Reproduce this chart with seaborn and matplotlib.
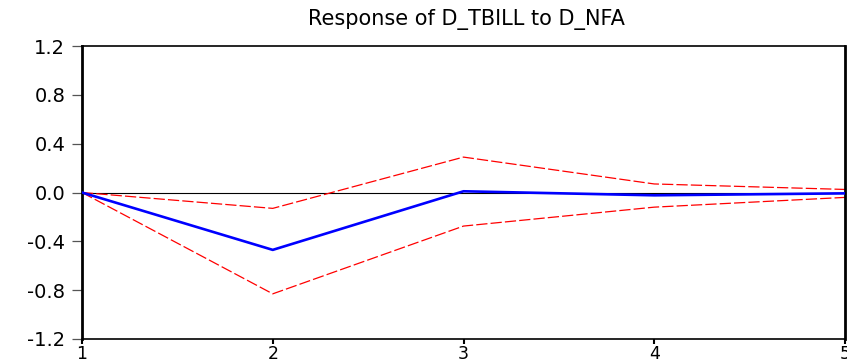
import matplotlib
matplotlib.use("Agg")
import matplotlib.pyplot as plt
import seaborn as sns
import pandas as pd

# Impulse response of D_TBILL to a D_NFA shock, with +/- 2 S.E. bands
periods = [1, 2, 3, 4, 5]
response = [0.0, -0.47, 0.01, -0.023, -0.007]
upper_band = [0.0, -0.13, 0.29, 0.07, 0.025]
lower_band = [0.0, -0.83, -0.275, -0.12, -0.04]

y_ticks = [-1.2, -0.8, -0.4, 0.0, 0.4, 0.8, 1.2]
x_ticks = [1, 2, 3, 4, 5]
title = "Response of D_TBILL to D_NFA"

sns.set_style("ticks")
plt.rcParams["font.family"] = ["DejaVu Sans"]
plt.rcParams["text.color"] = "black"
plt.rcParams["xtick.labelcolor"] = "black"
plt.rcParams["ytick.labelcolor"] = "black"

df = pd.DataFrame({
    "period": periods * 3,
    "value": response + upper_band + lower_band,
    "series": ["response"] * 5 + ["upper"] * 5 + ["lower"] * 5,
})

fig = plt.figure(figsize=(8.47, 3.64), dpi=100)
ax = fig.add_axes([82 / 847, 1 - 339 / 364, (845 - 82) / 847, (339 - 46) / 364])

ax.axhline(0, color="black", lw=0.8, zorder=1)

sns.lineplot(data=df[df.series == "upper"], x="period", y="value",
             color="#ff0000", lw=0.9, ax=ax, zorder=2)
sns.lineplot(data=df[df.series == "lower"], x="period", y="value",
             color="#ff0000", lw=0.9, ax=ax, zorder=2)
for ln in ax.lines[1:]:
    ln.set_dashes([9, 2.5])
sns.lineplot(data=df[df.series == "response"], x="period", y="value",
             color="#0000ff", lw=1.9, ax=ax, zorder=3)

ax.set_xlim(1, 5)
ax.set_ylim(-1.2, 1.2)
ax.set_xticks(x_ticks)
ax.set_xticklabels([str(v) for v in x_ticks])
ax.set_yticks(y_ticks)
ax.set_yticklabels([f"{v:.1f}" for v in y_ticks])
ax.set_xlabel("")
ax.set_ylabel("")

for side in ["left", "right", "top", "bottom"]:
    ax.spines[side].set_visible(True)
    ax.spines[side].set_color("black")
    ax.spines[side].set_linewidth(1.2)
ax.spines["left"].set_linewidth(2.0)
ax.spines["right"].set_linewidth(2.0)

ax.tick_params(axis="y", direction="out", length=7, width=0.9,
               color="#555555", pad=5, labelsize=14, labelcolor="black")
ax.tick_params(axis="x", direction="out", length=3.5, width=1.5,
               color="black", pad=1, labelsize=12.5, labelcolor="black")

ax.set_title(title, fontsize=15, pad=15, x=(466 - 82) / (845 - 82),
             color="black")

fig.savefig("out.png", dpi=100)
